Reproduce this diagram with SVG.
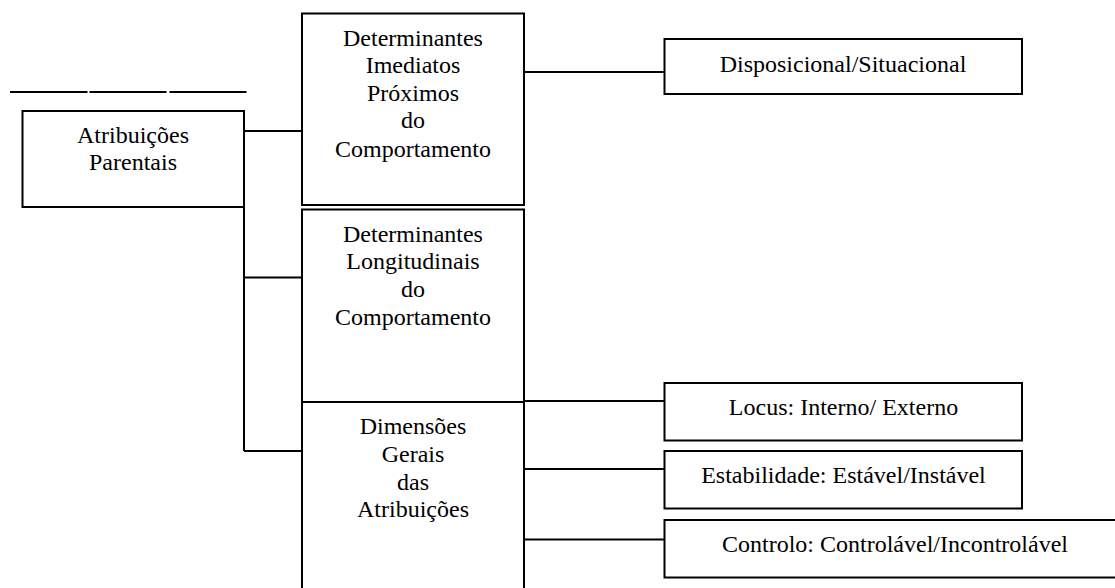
<svg xmlns="http://www.w3.org/2000/svg" width="1115" height="588" viewBox="0 0 1115 588">
<style>
.box{fill:#fff;stroke:#000;stroke-width:2}
.ln{stroke:#000;stroke-width:2;fill:none}
.t{font-family:"Liberation Serif","Times New Roman",serif;font-size:24px;fill:#000;text-anchor:middle}
</style>
<rect width="1115" height="588" fill="#fff"/>
<g id="rule">
<line class="ln" x1="10" y1="92" x2="87.5" y2="92"/>
<line class="ln" x1="89.5" y1="92" x2="166.5" y2="92"/>
<line class="ln" x1="169.5" y1="92" x2="246.5" y2="92"/>
</g>
<g id="connectors">
<line class="ln" x1="244" y1="131" x2="302" y2="131"/>
<line class="ln" x1="244" y1="193" x2="244" y2="451"/>
<line class="ln" x1="244" y1="277.5" x2="302" y2="277.5"/>
<line class="ln" x1="244" y1="451" x2="302" y2="451"/>
<line class="ln" x1="524" y1="72" x2="665" y2="72"/>
<line class="ln" x1="524" y1="401" x2="665" y2="401"/>
<line class="ln" x1="524" y1="469" x2="665" y2="469"/>
<line class="ln" x1="524" y1="539.5" x2="665" y2="539.5"/>
</g>
<g id="atribuicoes">
<rect class="box" x="22.5" y="111" width="221.5" height="96"/>
<text class="t" x="133" y="142.7">Atribuições</text>
<text class="t" x="133" y="170">Parentais</text>
</g>
<g id="imediatos">
<rect class="box" x="302" y="13.5" width="222" height="191.5"/>
<text class="t" x="413" y="45.7">Determinantes</text>
<text class="t" x="413" y="73.3">Imediatos</text>
<text class="t" x="413" y="100.8">Próximos</text>
<text class="t" x="413" y="128.3">do</text>
<text class="t" x="413" y="156.5">Comportamento</text>
</g>
<g id="longitudinais">
<rect class="box" x="302" y="209.5" width="222" height="192.5"/>
<text class="t" x="413" y="241.7">Determinantes</text>
<text class="t" x="413" y="269.3">Longitudinais</text>
<text class="t" x="413" y="296.8">do</text>
<text class="t" x="413" y="325">Comportamento</text>
</g>
<g id="dimensoes">
<rect class="box" x="302" y="402" width="222" height="200"/>
<text class="t" x="413" y="434">Dimensões</text>
<text class="t" x="413" y="461.7">Gerais</text>
<text class="t" x="413" y="490">das</text>
<text class="t" x="413" y="516.7">Atribuições</text>
</g>
<g id="disposicional">
<rect class="box" x="664.5" y="39" width="357.5" height="55"/>
<text class="t" x="843" y="71.7">Disposicional/Situacional</text>
</g>
<g id="locus">
<rect class="box" x="664.5" y="383" width="357.5" height="57.5"/>
<text class="t" x="843.5" y="415">Locus: Interno/ Externo</text>
</g>
<g id="estabilidade">
<rect class="box" x="664.5" y="451" width="357.5" height="57.5"/>
<text class="t" x="843.5" y="483.3">Estabilidade: Estável/Instável</text>
</g>
<g id="controlo">
<rect class="box" x="664.5" y="520" width="462" height="57.5"/>
<text class="t" x="895" y="551.7">Controlo: Controlável/Incontrolável</text>
</g>
</svg>
